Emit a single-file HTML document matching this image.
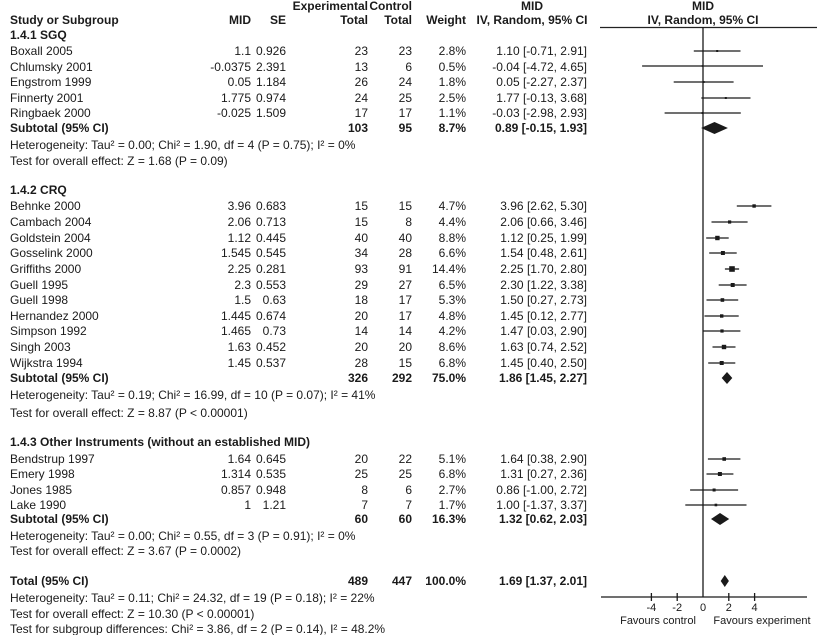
<!DOCTYPE html>
<html><head><meta charset="utf-8"><style>
html,body{margin:0;padding:0;background:#fff}
svg{display:block}
text{font-family:"Liberation Sans",Arial,sans-serif;font-size:12px;fill:#1a1a1a}
.b{font-weight:bold}
.r{text-anchor:end}
.c{text-anchor:middle}
.s{font-size:11px}
</style></head><body>
<svg width="817" height="635" viewBox="0 0 817 635" xmlns="http://www.w3.org/2000/svg">
<!-- header -->
<text class="b r" x="368" y="10">Experimental</text>
<text class="b r" x="412" y="10">Control</text>
<text class="b c" x="532" y="10">MID</text>
<text class="b c" x="703" y="10">MID</text>
<text class="b" x="10" y="24">Study or Subgroup</text>
<text class="b r" x="251" y="24">MID</text>
<text class="b r" x="286" y="24">SE</text>
<text class="b r" x="368" y="24">Total</text>
<text class="b r" x="412" y="24">Total</text>
<text class="b r" x="466" y="24">Weight</text>
<text class="b c" x="532" y="24">IV, Random, 95% CI</text>
<text class="b c" x="703" y="24">IV, Random, 95% CI</text>
<line x1="600" y1="27.5" x2="817" y2="27.5" stroke="#222" stroke-width="1.2"/>

<!-- SGQ -->
<text class="b" x="10" y="39">1.4.1 SGQ</text>
<g>
<text x="10" y="55">Boxall 2005</text><text class="r" x="251" y="55">1.1</text><text class="r" x="286" y="55">0.926</text><text class="r" x="368" y="55">23</text><text class="r" x="412" y="55">23</text><text class="r" x="466" y="55">2.8%</text><text class="r" x="587" y="55">1.10 [-0.71, 2.91]</text>
<text x="10" y="71">Chlumsky 2001</text><text class="r" x="251" y="71">-0.0375</text><text class="r" x="286" y="71">2.391</text><text class="r" x="368" y="71">13</text><text class="r" x="412" y="71">6</text><text class="r" x="466" y="71">0.5%</text><text class="r" x="587" y="71">-0.04 [-4.72, 4.65]</text>
<text x="10" y="86">Engstrom 1999</text><text class="r" x="251" y="86">0.05</text><text class="r" x="286" y="86">1.184</text><text class="r" x="368" y="86">26</text><text class="r" x="412" y="86">24</text><text class="r" x="466" y="86">1.8%</text><text class="r" x="587" y="86">0.05 [-2.27, 2.37]</text>
<text x="10" y="102">Finnerty 2001</text><text class="r" x="251" y="102">1.775</text><text class="r" x="286" y="102">0.974</text><text class="r" x="368" y="102">24</text><text class="r" x="412" y="102">25</text><text class="r" x="466" y="102">2.5%</text><text class="r" x="587" y="102">1.77 [-0.13, 3.68]</text>
<text x="10" y="117">Ringbaek 2000</text><text class="r" x="251" y="117">-0.025</text><text class="r" x="286" y="117">1.509</text><text class="r" x="368" y="117">17</text><text class="r" x="412" y="117">17</text><text class="r" x="466" y="117">1.1%</text><text class="r" x="587" y="117">-0.03 [-2.98, 2.93]</text>
<text class="b" x="10" y="132">Subtotal (95% CI)</text><text class="b r" x="368" y="132">103</text><text class="b r" x="412" y="132">95</text><text class="b r" x="466" y="132">8.7%</text><text class="b r" x="587" y="132">0.89 [-0.15, 1.93]</text>
<text x="10" y="149">Heterogeneity: Tau² = 0.00; Chi² = 1.90, df = 4 (P = 0.75); I² = 0%</text>
<text x="10" y="165">Test for overall effect: Z = 1.68 (P = 0.09)</text>
</g>

<!-- CRQ -->
<text class="b" x="10" y="194">1.4.2 CRQ</text>
<text x="10" y="210">Behnke 2000</text><text class="r" x="251" y="210">3.96</text><text class="r" x="286" y="210">0.683</text><text class="r" x="368" y="210">15</text><text class="r" x="412" y="210">15</text><text class="r" x="466" y="210">4.7%</text><text class="r" x="587" y="210">3.96 [2.62, 5.30]</text>
<text x="10" y="226">Cambach 2004</text><text class="r" x="251" y="226">2.06</text><text class="r" x="286" y="226">0.713</text><text class="r" x="368" y="226">15</text><text class="r" x="412" y="226">8</text><text class="r" x="466" y="226">4.4%</text><text class="r" x="587" y="226">2.06 [0.66, 3.46]</text>
<text x="10" y="242">Goldstein 2004</text><text class="r" x="251" y="242">1.12</text><text class="r" x="286" y="242">0.445</text><text class="r" x="368" y="242">40</text><text class="r" x="412" y="242">40</text><text class="r" x="466" y="242">8.8%</text><text class="r" x="587" y="242">1.12 [0.25, 1.99]</text>
<text x="10" y="257">Gosselink 2000</text><text class="r" x="251" y="257">1.545</text><text class="r" x="286" y="257">0.545</text><text class="r" x="368" y="257">34</text><text class="r" x="412" y="257">28</text><text class="r" x="466" y="257">6.6%</text><text class="r" x="587" y="257">1.54 [0.48, 2.61]</text>
<text x="10" y="273">Griffiths 2000</text><text class="r" x="251" y="273">2.25</text><text class="r" x="286" y="273">0.281</text><text class="r" x="368" y="273">93</text><text class="r" x="412" y="273">91</text><text class="r" x="466" y="273">14.4%</text><text class="r" x="587" y="273">2.25 [1.70, 2.80]</text>
<text x="10" y="289">Guell 1995</text><text class="r" x="251" y="289">2.3</text><text class="r" x="286" y="289">0.553</text><text class="r" x="368" y="289">29</text><text class="r" x="412" y="289">27</text><text class="r" x="466" y="289">6.5%</text><text class="r" x="587" y="289">2.30 [1.22, 3.38]</text>
<text x="10" y="304">Guell 1998</text><text class="r" x="251" y="304">1.5</text><text class="r" x="286" y="304">0.63</text><text class="r" x="368" y="304">18</text><text class="r" x="412" y="304">17</text><text class="r" x="466" y="304">5.3%</text><text class="r" x="587" y="304">1.50 [0.27, 2.73]</text>
<text x="10" y="320">Hernandez 2000</text><text class="r" x="251" y="320">1.445</text><text class="r" x="286" y="320">0.674</text><text class="r" x="368" y="320">20</text><text class="r" x="412" y="320">17</text><text class="r" x="466" y="320">4.8%</text><text class="r" x="587" y="320">1.45 [0.12, 2.77]</text>
<text x="10" y="335">Simpson 1992</text><text class="r" x="251" y="335">1.465</text><text class="r" x="286" y="335">0.73</text><text class="r" x="368" y="335">14</text><text class="r" x="412" y="335">14</text><text class="r" x="466" y="335">4.2%</text><text class="r" x="587" y="335">1.47 [0.03, 2.90]</text>
<text x="10" y="351">Singh 2003</text><text class="r" x="251" y="351">1.63</text><text class="r" x="286" y="351">0.452</text><text class="r" x="368" y="351">20</text><text class="r" x="412" y="351">20</text><text class="r" x="466" y="351">8.6%</text><text class="r" x="587" y="351">1.63 [0.74, 2.52]</text>
<text x="10" y="367">Wijkstra 1994</text><text class="r" x="251" y="367">1.45</text><text class="r" x="286" y="367">0.537</text><text class="r" x="368" y="367">28</text><text class="r" x="412" y="367">15</text><text class="r" x="466" y="367">6.8%</text><text class="r" x="587" y="367">1.45 [0.40, 2.50]</text>
<text class="b" x="10" y="382">Subtotal (95% CI)</text><text class="b r" x="368" y="382">326</text><text class="b r" x="412" y="382">292</text><text class="b r" x="466" y="382">75.0%</text><text class="b r" x="587" y="382">1.86 [1.45, 2.27]</text>
<text x="10" y="399">Heterogeneity: Tau² = 0.19; Chi² = 16.99, df = 10 (P = 0.07); I² = 41%</text>
<text x="10" y="417">Test for overall effect: Z = 8.87 (P &lt; 0.00001)</text>

<!-- Other -->
<text class="b" x="10" y="446">1.4.3 Other Instruments (without an established MID)</text>
<text x="10" y="463">Bendstrup 1997</text><text class="r" x="251" y="463">1.64</text><text class="r" x="286" y="463">0.645</text><text class="r" x="368" y="463">20</text><text class="r" x="412" y="463">22</text><text class="r" x="466" y="463">5.1%</text><text class="r" x="587" y="463">1.64 [0.38, 2.90]</text>
<text x="10" y="478">Emery 1998</text><text class="r" x="251" y="478">1.314</text><text class="r" x="286" y="478">0.535</text><text class="r" x="368" y="478">25</text><text class="r" x="412" y="478">25</text><text class="r" x="466" y="478">6.8%</text><text class="r" x="587" y="478">1.31 [0.27, 2.36]</text>
<text x="10" y="494">Jones 1985</text><text class="r" x="251" y="494">0.857</text><text class="r" x="286" y="494">0.948</text><text class="r" x="368" y="494">8</text><text class="r" x="412" y="494">6</text><text class="r" x="466" y="494">2.7%</text><text class="r" x="587" y="494">0.86 [-1.00, 2.72]</text>
<text x="10" y="509">Lake 1990</text><text class="r" x="251" y="509">1</text><text class="r" x="286" y="509">1.21</text><text class="r" x="368" y="509">7</text><text class="r" x="412" y="509">7</text><text class="r" x="466" y="509">1.7%</text><text class="r" x="587" y="509">1.00 [-1.37, 3.37]</text>
<text class="b" x="10" y="523">Subtotal (95% CI)</text><text class="b r" x="368" y="523">60</text><text class="b r" x="412" y="523">60</text><text class="b r" x="466" y="523">16.3%</text><text class="b r" x="587" y="523">1.32 [0.62, 2.03]</text>
<text x="10" y="540">Heterogeneity: Tau² = 0.00; Chi² = 0.55, df = 3 (P = 0.91); I² = 0%</text>
<text x="10" y="555">Test for overall effect: Z = 3.67 (P = 0.0002)</text>

<!-- Total -->
<text class="b" x="10" y="585">Total (95% CI)</text><text class="b r" x="368" y="585">489</text><text class="b r" x="412" y="585">447</text><text class="b r" x="466" y="585">100.0%</text><text class="b r" x="587" y="585">1.69 [1.37, 2.01]</text>
<text x="10" y="602">Heterogeneity: Tau² = 0.11; Chi² = 24.32, df = 19 (P = 0.18); I² = 22%</text>
<text x="10" y="618">Test for overall effect: Z = 10.30 (P &lt; 0.00001)</text>
<text x="10" y="633">Test for subgroup differences: Chi² = 3.86, df = 2 (P = 0.14), I² = 48.2%</text>

<!-- plot -->
<g stroke="#1a1a1a" stroke-width="1.3" fill="#1a1a1a">
<line x1="703" y1="27" x2="703" y2="597"/>
<line x1="601" y1="597" x2="807" y2="597"/>
<line x1="651.4" y1="593" x2="651.4" y2="601"/>
<line x1="677.2" y1="593" x2="677.2" y2="601"/>
<line x1="728.8" y1="593" x2="728.8" y2="601"/>
<line x1="754.6" y1="593" x2="754.6" y2="601"/>
<!-- SGQ -->
<line x1="693.8" y1="51" x2="740.5" y2="51"/><rect x="716.2" y="50" width="2" height="2" stroke="none"/>
<line x1="642.1" y1="66" x2="763" y2="66"/><rect x="701.7" y="65.2" width="1.6" height="1.6" stroke="none"/>
<line x1="673.7" y1="82" x2="733.6" y2="82"/><rect x="702.6" y="81" width="2" height="2" stroke="none"/>
<line x1="701.3" y1="98" x2="750.5" y2="98"/><rect x="724.8" y="97" width="2" height="2" stroke="none"/>
<line x1="664.6" y1="113" x2="740.8" y2="113"/><rect x="701.6" y="112" width="2" height="2" stroke="none"/>
<polygon points="701.1,128 714.5,122 727.9,128 714.5,134" stroke="none"/>
<!-- CRQ -->
<line x1="736.8" y1="206" x2="771.4" y2="206"/><rect x="752.4" y="204.3" width="3.4" height="3.4" stroke="none"/>
<line x1="711.5" y1="222" x2="747.6" y2="222"/><rect x="728" y="220.4" width="3.2" height="3.2" stroke="none"/>
<line x1="706.2" y1="238" x2="728.7" y2="238"/><rect x="715.2" y="235.8" width="4.4" height="4.4" stroke="none"/>
<line x1="709.2" y1="253" x2="736.7" y2="253"/><rect x="720.9" y="251" width="4" height="4" stroke="none"/>
<line x1="724.9" y1="269" x2="739.1" y2="269"/><rect x="729.2" y="266.2" width="5.6" height="5.6" stroke="none"/>
<line x1="718.7" y1="285" x2="746.6" y2="285"/><rect x="730.7" y="283" width="4" height="4" stroke="none"/>
<line x1="706.5" y1="300" x2="738.2" y2="300"/><rect x="720.6" y="298.2" width="3.6" height="3.6" stroke="none"/>
<line x1="704.5" y1="316" x2="738.7" y2="316"/><rect x="720" y="314.3" width="3.4" height="3.4" stroke="none"/>
<line x1="703.4" y1="331" x2="740.4" y2="331"/><rect x="720.4" y="329.4" width="3.2" height="3.2" stroke="none"/>
<line x1="712.5" y1="347" x2="735.5" y2="347"/><rect x="721.8" y="344.8" width="4.4" height="4.4" stroke="none"/>
<line x1="708.2" y1="363" x2="735.3" y2="363"/><rect x="719.7" y="361" width="4" height="4" stroke="none"/>
<polygon points="721.7,378 727,372 732.3,378 727,384" stroke="none"/>
<!-- Other -->
<line x1="707.9" y1="459" x2="740.4" y2="459"/><rect x="722.4" y="457.2" width="3.6" height="3.6" stroke="none"/>
<line x1="706.5" y1="474" x2="733.4" y2="474"/><rect x="717.9" y="472" width="4" height="4" stroke="none"/>
<line x1="690.1" y1="490" x2="738.1" y2="490"/><rect x="712.6" y="488.5" width="3" height="3" stroke="none"/>
<line x1="685.3" y1="505" x2="746.5" y2="505"/><rect x="714.6" y="503.7" width="2.6" height="2.6" stroke="none"/>
<polygon points="711,519 720,513 729.2,519 720,525" stroke="none"/>
<polygon points="720.7,581 724.8,575 728.9,581 724.8,587" stroke="none"/>
</g>
<text class="s c" x="651.4" y="611">-4</text>
<text class="s c" x="677.2" y="611">-2</text>
<text class="s c" x="703" y="611">0</text>
<text class="s c" x="728.8" y="611">2</text>
<text class="s c" x="754.6" y="611">4</text>
<text class="s c" x="658" y="624">Favours control</text>
<text class="s c" x="762" y="624">Favours experiment</text>
</svg>
</body></html>
